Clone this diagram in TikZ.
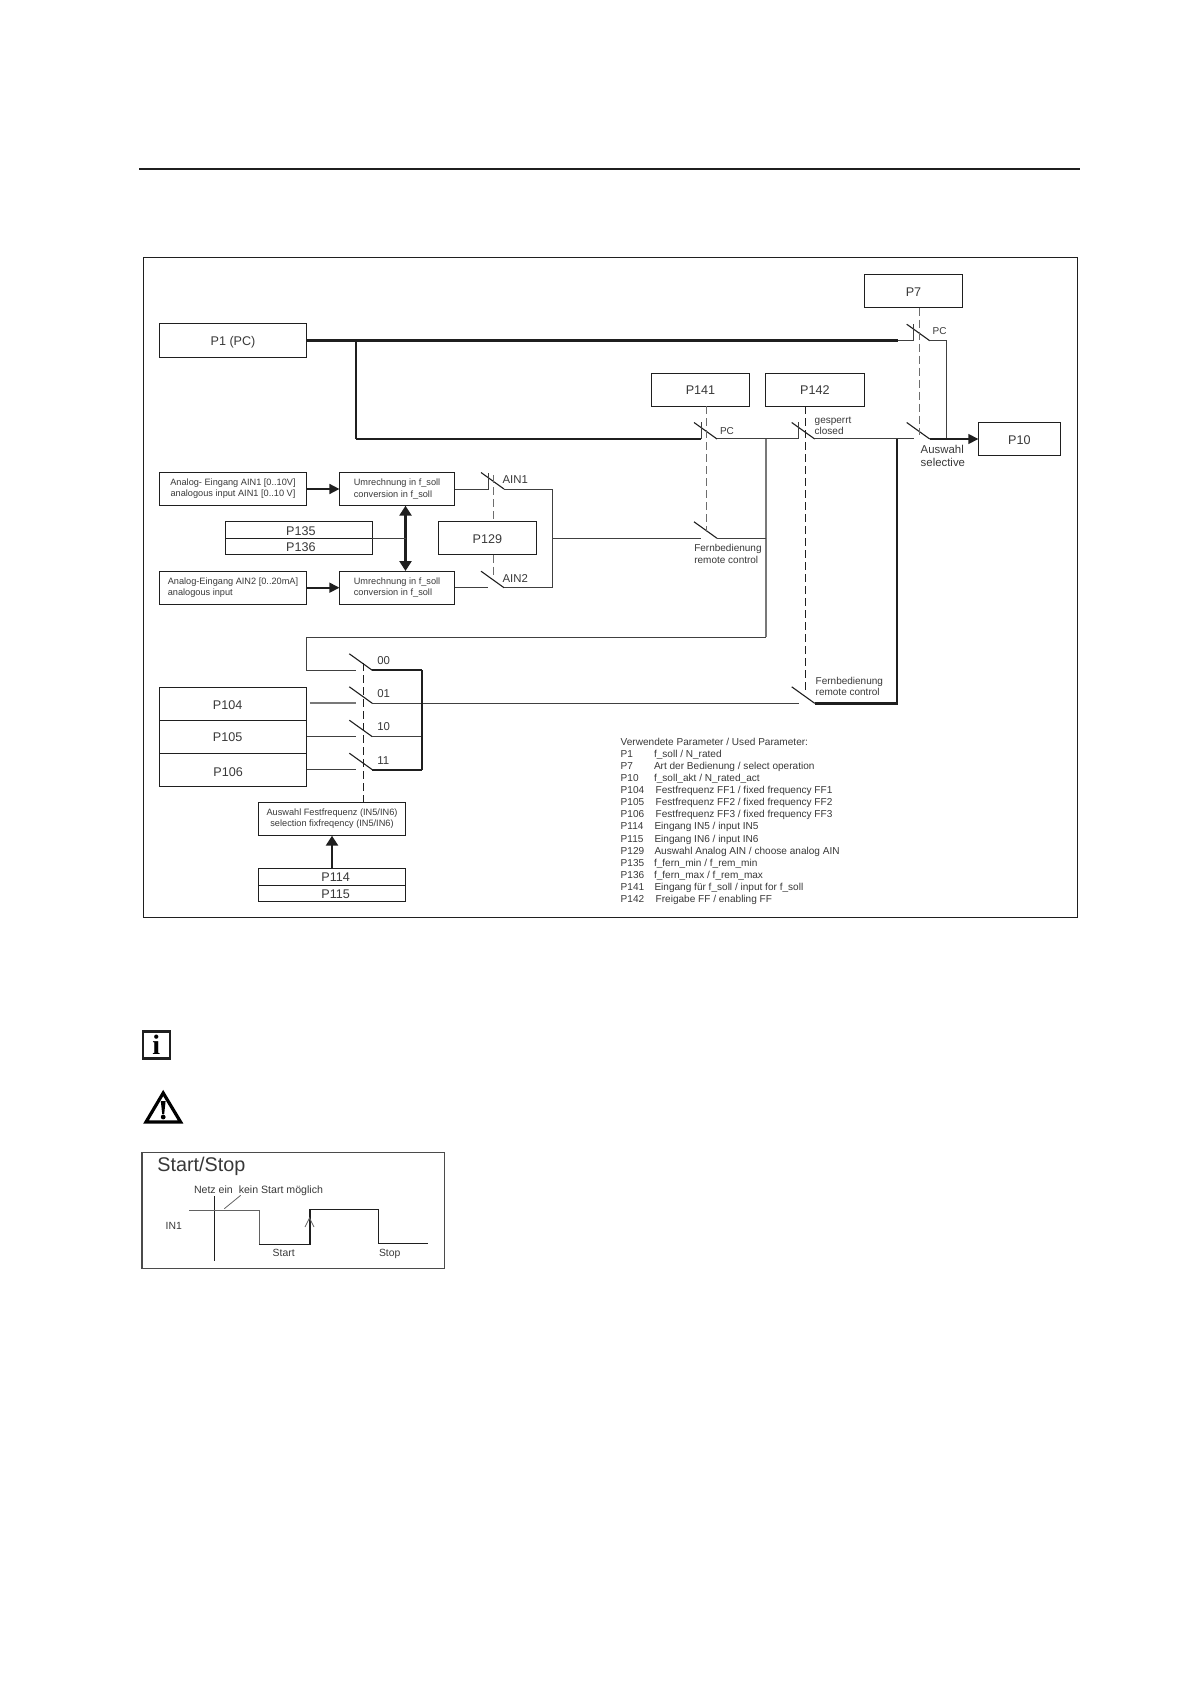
\documentclass[tikz,border=0pt]{standalone}
\usepackage{fontspec}
\setmainfont{Liberation Sans}
\newfontfamily\serifb{Liberation Serif}
\usetikzlibrary{arrows.meta}
\definecolor{ink}{gray}{0.12}
\definecolor{txt}{gray}{0.22}
\tikzset{
  pbox/.style={draw=ink,line width=0.5pt,inner sep=0pt,outer sep=0pt,text=txt,font=\fontsize{6.3}{7.5}\selectfont},
  smallbox/.style={pbox,font=\fontsize{4.6}{5.6}\selectfont,align=center},
  wire/.style={draw=ink!85,line width=0.5pt},
  wiremid/.style={draw=ink,line width=0.85pt},
  wiregray/.style={draw=ink!60,line width=0.9pt},
  thickwire/.style={draw=ink,line width=1.2pt},
  blade/.style={draw=ink,line width=0.55pt},
  link/.style={draw=ink!65,line width=0.4pt,dash pattern=on 4pt off 2pt},
  linkdark/.style={draw=ink,line width=0.55pt,dash pattern=on 4pt off 2pt},
  flow/.style={draw=ink,line width=0.8pt,-{Triangle[length=5pt,width=5pt]}},
  flowboth/.style={draw=ink,line width=1.3pt,{Triangle[length=5pt,width=6pt]}-{Triangle[length=5pt,width=6pt]}},
  lab/.style={inner sep=0pt,outer sep=0pt,anchor=west,text=txt,font=\fontsize{5}{6}\selectfont,text height=3.6pt,text depth=0pt},
  labbig/.style={lab,font=\fontsize{5.7}{6.7}\selectfont,text height=4pt},
  leg/.style={lab,font=\fontsize{5.03}{6.2}\selectfont,text height=3.7pt},
  small/.style={line width=0.4pt,draw=ink!70},
}
\newcommand{\ptxt}[2][0pt]{\raisebox{-#1}[4.5pt][0pt]{#2}}
\newcommand{\boxn}[7][]{%
  \pgfmathsetmacro\bw{(#5-#3)*0.5}\pgfmathsetmacro\bh{(#6-#4)*0.5}%
  \pgfmathsetmacro\bx{(#3+#5)/2}\pgfmathsetmacro\by{(#4+#6)/2}%
  \node[pbox,minimum width=\bw pt,minimum height=\bh pt,#1] (#2) at (\bx,\by) {#7};}
\newcommand{\switchn}[3]{%
  \pgfmathsetmacro\sa{#2+7}\pgfmathsetmacro\sb{#2+23}\pgfmathsetmacro\sc{#3-16.5}%
  \coordinate (#1-in) at (\sa,#3);\coordinate (#1-out) at (\sb,#3);\coordinate (#1-top) at (\sa,\sc);\coordinate (#1-blade) at (#2,\sc);
  \draw[blade] (#1-blade) -- (#1-out);}
\begin{document}
\begin{tikzpicture}[x=0.5pt,y=-0.5pt]
\useasboundingbox (0,0) rectangle (1191,1684);
% page rule and frame
\coordinate (ruleL) at (139,169);\coordinate (ruleR) at (1080,169);
\draw[draw=ink,line width=0.55pt] (ruleL) -- (ruleR);
\draw[draw=ink,line width=0.5pt] (143,258) rectangle (1077,917);
% boxes
\boxn{p1}{159.3}{324}{306.7}{357.4}{\ptxt{P1 (PC)}}
\boxn{p7}{864.3}{274.3}{962.7}{307.7}{\ptxt[0.5pt]{P7}}
\boxn{p141}{651.3}{373.3}{749.7}{406.3}{\ptxt{P141}}
\boxn{p142}{765.3}{373.3}{864.3}{406.3}{\ptxt{P142}}
\boxn{p10}{978.3}{422.3}{1060.3}{455.7}{\ptxt[0.5pt]{P10}}
\boxn[smallbox]{ain1}{159.3}{472.3}{306.7}{505.7}{Analog- Eingang AIN1 [0..10V]\\analogous input AIN1 [0..10 V]}
\boxn[smallbox,align=left]{ain2}{159.3}{571}{306.7}{604.4}{Analog-Eingang AIN2 [0..20mA]\\analogous input}
\boxn[smallbox,align=left]{conv1}{339.4}{472.3}{454.7}{505.7}{Umrechnung in f\_soll\\conversion in f\_soll}
\boxn[smallbox,align=left]{conv2}{339.4}{571}{454.7}{604.4}{Umrechnung in f\_soll\\conversion in f\_soll}
\boxn{p135}{225.4}{521.3}{372.4}{538.3}{\hspace*{2pt}\ptxt[0.6pt]{P135}}
\boxn{p136}{225.4}{538.3}{372.4}{554.7}{\hspace*{2pt}\ptxt{P136}}
\boxn{p129}{438.2}{521.3}{536.4}{554.7}{\ptxt[0.6pt]{P129}}
\boxn{p104}{159.3}{687.3}{306.7}{720.3}{\hspace*{-5.4pt}\ptxt[0.5pt]{P104}}
\boxn{p105}{159.3}{720.3}{306.7}{753.3}{\hspace*{-5.4pt}\ptxt[0.25pt]{P105}}
\boxn{p106}{159.3}{753.3}{306.7}{786.3}{\hspace*{-4.8pt}\ptxt[1pt]{P106}}
\boxn[smallbox]{sel}{258.3}{802.3}{405.7}{835.7}{Auswahl Festfrequenz (IN5/IN6)\\selection fixfreqency (IN5/IN6)}
\boxn{p114}{258.3}{868.3}{405.7}{885.3}{\hspace*{3.6pt}\ptxt{P114}}
\boxn{p115}{258.3}{885.3}{405.7}{901.7}{\hspace*{3.6pt}\ptxt{P115}}
% switches
\switchn{s7}{906.7}{340.7}
\switchn{sa}{906.7}{439}
\switchn{s141}{694}{439}
\switchn{s142}{791.7}{439}
\switchn{srem}{694}{538.3}
\switchn{sff}{791.7}{703.3}
\switchn{sain1}{481}{489}
\switchn{sain2}{481}{587.7}
\switchn{s00}{349.3}{670.3}
\switchn{s01}{349.3}{703.3}
\switchn{s10}{349.3}{736.7}
\switchn{s11}{349.3}{769.7}
% helper points
\coordinate (jTop) at (356,340.7);
\coordinate (jThin) at (898,340.7);
\coordinate (jBot) at (356,439);
\coordinate (xP7) at (946.3,340.7);
\coordinate (xP7b) at (946.3,439);
\coordinate (jRem) at (766,439);
\coordinate (jRemB) at (766,538.3);
\coordinate (jRemC) at (766,637.3);
\coordinate (ffL) at (306.7,637.3);
\coordinate (ffLb) at (306.7,670.3);
\coordinate (bus) at (422,670.3);
\coordinate (busB) at (422,769.7);
\coordinate (bus1) at (422,703.3);
\coordinate (bus2) at (422,736.7);
\coordinate (jFF) at (897,439);
\coordinate (jFFb) at (897,703.3);
\coordinate (ainR) at (552.5,489);
\coordinate (ainM) at (552.5,538.3);
\coordinate (ainB) at (552.5,587.7);
\coordinate (da) at (405.5,538.3);
\coordinate (up) at (332,868.3);
% P1 paths
\draw[thickwire] (p1.east) -- (jThin);
\draw[wire] (jThin) -- (s7-in) -- (s7-top);
\draw[thickwire] (jTop) -- (jBot);
\draw[wiremid] (jBot) -- (s141-in);
\draw[wire] (s141-in) -- (s141-top);
\draw[wire] (s7-out) -- (xP7) -- (xP7b);
\draw[wire] (s141-out) -- (s142-in) -- (s142-top);
\draw[wire] (s142-out) -- (sa-in);
\draw[flow] (sa-out) -- (p10.west);
\draw[wiregray] (jRem) -- (jRemC);
\draw[wire] (jRemC) -- (ffL) -- (ffLb) -- (s00-in);
\draw[wire] (srem-out) -- (jRemB);
\draw[wire] (ainM) -- (srem-in);
% FF
\draw[wiremid] (s00-out) -- (bus);
\draw[wire] (p104.east) ++(3,0) coordinate (p104o);
\draw[wiregray] (p104o |- s01-in) -- (s01-in);
\draw[wire] (s01-out) -- (sff-in);
\draw[wire] (p105.east |- s10-in) -- (s10-in);
\draw[wire] (s10-out) -- (bus2);
\draw[wire] (p106.east |- s11-in) -- (s11-in);
\draw[wiremid] (s11-out) -- (busB);
\draw[thickwire] (bus) -- (busB);
\draw[thickwire] (jFF) -- (jFFb) -- (sff-out);
% Analog
\draw[flow] (ain1.east) -- (conv1.west);
\draw[flow] (ain2.east) -- (conv2.west);
\draw[wire] (conv1.east) -- (sain1-in) -- (sain1-top);
\draw[wire] (conv2.east) -- (sain2-in);
\draw[wire] (sain1-out) -- (ainR) -- (ainB) -- (sain2-out);
\draw[flowboth] (da |- conv1.south) -- (da |- conv2.north);
\draw[wire] (p135.south east) -- (da);
\draw[flowboth,{Triangle[length=5pt,width=6pt]}-] (up |- sel.south) -- (up);
% dashed links
\coordinate (d7) at (919.3,435);
\draw[link] (d7 |- p7.south) -- (d7);
\coordinate (d141) at (706.3,531.7);
\draw[link] (d141 |- p141.south) -- (d141);
\coordinate (d142) at (805.3,693);
\draw[linkdark] (d142 |- p142.south) -- (d142);
\coordinate (dain) at (493.3,475);
\coordinate (dain2) at (493.3,578);
\draw[link] (dain) -- (dain |- p129.north);
\draw[link] (dain |- p129.south) -- (dain2);
\coordinate (dff) at (363.3,663);
\draw[linkdark] (dff) -- (dff |- sel.north);
% labels
\node[labbig] (lAin1) at (502.6,479) {AIN1};
\node[labbig] (lAin2) at (502.6,578.3) {AIN2};
\node[lab] (lPc1) at (932.7,330.7) {PC};
\node[lab] (lPc2) at (720,430.7) {PC};
\node[lab] (lGes) at (814.7,419.7) {gesperrt};
\node[lab] (lClo) at (814.7,431.3) {closed};
\node[labbig] (lAus) at (920.7,449) {Auswahl};
\node[labbig] (lSel) at (920.7,462.7) {selective};
\node[lab] (lF1) at (694.3,548.3) {Fernbedienung};
\node[lab] (lR1) at (694.3,560) {remote control};
\node[lab] (lF2) at (815.7,680.7) {Fernbedienung};
\node[lab] (lR2) at (815.7,692.3) {remote control};
\node[labbig] (l00) at (377.3,660.3) {00};
\node[labbig] (l01) at (377.3,693.3) {01};
\node[labbig] (l10) at (377.3,726.7) {10};
\node[labbig] (l11) at (377.3,760) {11};
% legend
\node[leg] (legHead) at (620.7,741.7) {Verwendete Parameter / Used Parameter:};
\foreach \p/\t/\yy/\xx [count=\i] in {
 P1/{f\_soll / N\_rated}/753.3/654,
 P7/{Art der Bedienung / select operation}/765.3/654,
 P10/{f\_soll\_akt / N\_rated\_act}/777.7/654,
 P104/{Festfrequenz FF1 / fixed frequency FF1}/789.3/655.7,
 P105/{Festfrequenz FF2 / fixed frequency FF2}/801.7/655.7,
 P106/{Festfrequenz FF3 / fixed frequency FF3}/814/655.7,
 P114/{Eingang IN5 / input IN5}/826/654.5,
 P115/{Eingang IN6 / input IN6}/838.3/654.5,
 P129/{Auswahl Analog AIN / choose analog AIN}/850.3/654.5,
 P135/{f\_fern\_min / f\_rem\_min}/862.7/654,
 P136/{f\_fern\_max / f\_rem\_max}/874.7/654,
 P141/{Eingang für f\_soll / input for f\_soll}/887/654.5,
 P142/{Freigabe FF / enabling FF}/899/655.7}{
  \node[leg] (legP\i) at (620.7,\yy) {\p};
  \node[leg] (legT\i) at (\xx,\yy) {\t};
}
% info icon
\node[draw=ink,line width=1.2pt,minimum size=13.5pt,inner sep=0pt,font=\serifb\bfseries\fontsize{14}{14}\selectfont,text=black] (info) at (156.2,1045) {i};
% warning icon
\coordinate (wA) at (163.2,1093);\coordinate (wB) at (146,1122);\coordinate (wC) at (180.6,1122);
\draw[draw=black,line width=1.6pt,line join=miter] (wA) -- (wB) -- (wC) -- cycle;
\fill[black] (160.8,1101) -- (165.6,1101) -- (164.2,1114) -- (162.2,1114) -- cycle;
\fill[black] (163.2,1117) circle (2.4);
% start stop
\draw[draw=ink!80,line width=0.7pt] (142,1152.7) rectangle (444.3,1268.3);
\node[lab,font=\fontsize{9.9}{11}\selectfont,text height=7pt] (tStart) at (157.3,1164) {Start/Stop};
\node[lab,font=\fontsize{5.3}{6}\selectfont] (tNetz) at (194,1190) {Netz ein\ \ kein Start möglich};
\node[lab,font=\fontsize{5.2}{6}\selectfont] (tIn) at (165.7,1226.3) {IN1};
\node[lab,font=\fontsize{5.2}{6}\selectfont] (tS1) at (272.7,1252.7) {Start};
\node[lab,font=\fontsize{5.2}{6}\selectfont] (tS2) at (379,1252.7) {Stop};
\coordinate (c1) at (214.7,1196);\coordinate (c2) at (214.7,1261);
\draw[draw=ink,line width=0.6pt] (c1) -- (c2);
\coordinate (g0) at (189.3,1210.3);\coordinate (g1) at (259.3,1210.3);\coordinate (g2) at (259.3,1244.3);
\coordinate (g3) at (310,1244.3);\coordinate (g4) at (310,1209.7);\coordinate (g5) at (378.3,1209.7);
\coordinate (g6) at (378.3,1243.7);\coordinate (g7) at (428.3,1243.7);
\draw[small] (g0) -- (g1) -- (g2);
\draw[draw=ink,line width=0.6pt] (g2) -- (g3) -- (g4) -- (g5) -- (g6) -- (g7);
\coordinate (p1a) at (224.3,1208.7);\coordinate (p1b) at (240.7,1195.3);
\draw[small] (p1a) -- (p1b);
\coordinate (a0) at (305,1227);\coordinate (a1) at (309.5,1218);\coordinate (a2) at (314,1227);
\draw[small] (a0) -- (a1) -- (a2);
\end{tikzpicture}
\end{document}
